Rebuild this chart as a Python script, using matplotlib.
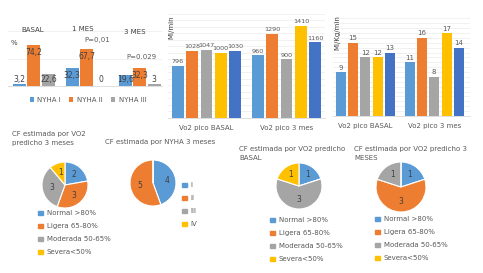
import matplotlib
matplotlib.use('Agg')
import matplotlib.pyplot as plt
from matplotlib.patches import Patch
import numpy as np

W, H = 483, 273
BLUE, ORANGE, GRAY, YELLOW, DBLUE = '#5B9BD5', '#ED7D31', '#A5A5A5', '#FFC000', '#4472C4'
TXT = '#595959'
GRID = '#ececec'

# NYHA class by visit (%)
nyha_groups = ['BASAL', '1 MES', '3 MES']
nyha_names = ['NYHA I', 'NYHA II', 'NYHA III']
nyha_vals = [[3.2, 32.3, 19.6],
             [74.2, 67.7, 32.3],
             [22.6, 0, 3]]
nyha_pvals = ['P=0,01', 'P=0.029']

# Vo2 pico
vo2_cats = ['Vo2 pico BASAL', 'Vo2 pico 3 mes']
vo2_abs = [[796, 1028, 1047, 1000, 1030],
           [960, 1290, 900, 1410, 1160]]
vo2_rel = [[9, 15, 12, 12, 13],
           [11, 16, 8, 17, 14]]
vo2_colors = [BLUE, ORANGE, GRAY, YELLOW, DBLUE]

# pies
cf_labels = ['Normal >80%', 'Ligera 65-80%', 'Moderada 50-65%', 'Severa<50%']
nyha_pie_labels = ['I', 'II', 'III', 'IV']
pie_colors = [BLUE, ORANGE, GRAY, YELLOW]
pie_vo2_3m = [2, 3, 3, 1]
pie_nyha_3m = [4, 5, 0, 0]
pie_vo2_basal = [1, 0, 3, 1]
pie_vo2_3m_b = [1, 3, 1, 0]


def box(l, t, r, b):
    return [l / W, 1 - b / H, (r - l) / W, (b - t) / H]


def ftext(x, y, s, **kw):
    kw.setdefault('fontsize', 5)
    kw.setdefault('color', TXT)
    fig.text(x / W, 1 - y / H, s, **kw)


def clean(ax):
    for s in ['top', 'right', 'left']:
        ax.spines[s].set_visible(False)
    ax.spines['bottom'].set_color('#d9d9d9')
    ax.spines['bottom'].set_linewidth(0.6)
    ax.tick_params(length=0, labelleft=False)
    ax.set_axisbelow(True)
    ax.yaxis.grid(True, color=GRID, linewidth=0.5)


fig = plt.figure(figsize=(W / 100, H / 100), dpi=100)

# --- NYHA bars ---
ax = fig.add_axes(box(8, 20, 162, 86))
x = np.arange(len(nyha_groups))
cols = [BLUE, ORANGE, GRAY]
for i, name in enumerate(nyha_names):
    xs = x + (i - 1) * 0.275
    ax.bar(xs, nyha_vals[i], 0.245, color=cols[i], label=name)
    for xi, v in zip(xs, nyha_vals[i]):
        ax.text(xi, max(v - 14, 11), ('%g' % v).replace('.', ','),
                ha='center', va='center', fontsize=5.5, color='#404040')
ax.set_xlim(-0.49, 2.42)
ax.set_ylim(0, 120)
ax.set_yticks([0, 50, 100])
ax.set_xticks([])
clean(ax)
ax.legend(loc='center', bbox_to_anchor=(88 / W, 1 - 100 / H), bbox_transform=fig.transFigure,
          ncol=3, frameon=False, fontsize=5, handlelength=0.6, handleheight=0.6,
          columnspacing=1.2, handletextpad=0.5, labelcolor=TXT)
for gx, gy, g in zip([33, 83, 135], [30, 29, 32], nyha_groups):
    ftext(gx, gy, g, ha='center', va='center', color='#404040')
ftext(14, 43, '%', ha='center', va='center', color='#404040')
ftext(97, 40, nyha_pvals[0], ha='center', va='center')
ftext(141, 57, nyha_pvals[1], ha='center', va='center')


def vo2_axes(rect, vals, ylim, step, xlim, ylabel, ylabel_xy, fs):
    ax = fig.add_axes(box(*rect))
    gx = np.arange(len(vo2_cats))
    for j in range(5):
        xs = gx + (j - 2) * 0.179
        hv = [vals[g][j] for g in range(len(vo2_cats))]
        ax.bar(xs, hv, 0.145, color=vo2_colors[j])
        for xi, v in zip(xs, hv):
            ax.text(xi, v + ylim * 0.015, str(v), ha='center', va='bottom',
                    fontsize=fs, color=TXT)
    ax.set_ylim(0, ylim)
    ax.set_xlim(*xlim)
    ax.set_yticks(np.arange(0, ylim + step, step))
    ax.set_xticks(gx)
    ax.set_xticklabels(vo2_cats, fontsize=5, color=TXT)
    clean(ax)
    ax.tick_params(axis='x', pad=5)
    ftext(ylabel_xy[0], ylabel_xy[1], ylabel, rotation=90, ha='center', va='center',
          color='#404040')


vo2_axes((168, 13.5, 325, 118), vo2_abs, 1600, 100, (-0.48, 1.48), 'Ml/min', (171, 27), 4.6)
vo2_axes((333, 18.4, 470, 116), vo2_rel, 20, 1, (-0.47, 1.52), 'Ml/Kg/min', (337, 33), 5)


def pie(cx, cy, r, vals, title, tx, ty, leg_xy, legend_labels):
    ax = fig.add_axes(box(cx - r, cy - r, cx + r, cy + r))
    ax.pie(vals, colors=pie_colors, startangle=90, counterclock=False,
           autopct=lambda p: '%d' % round(p * sum(vals) / 100) if p > 0 else '',
           pctdistance=0.6, textprops=dict(fontsize=5.5, color='#404040'),
           wedgeprops=dict(edgecolor='white', linewidth=0.8))
    ax.set_xlim(-1, 1)
    ax.set_ylim(-1, 1)
    ftext(tx, ty, title, ha='left', va='top', linespacing=1.5)
    handles = [Patch(color=c) for c in pie_colors]
    ax.legend(handles, legend_labels, loc='upper left', bbox_to_anchor=(leg_xy[0] / W, 1 - leg_xy[1] / H),
              bbox_transform=fig.transFigure, frameon=False, fontsize=5,
              handlelength=0.6, handleheight=0.6, handletextpad=0.6,
              labelspacing=1.0, labelcolor=TXT, borderpad=0)


pie(65, 185, 23, pie_vo2_3m, 'CF estimada por VO2\npredicho 3 meses', 12, 131, (35, 207), cf_labels)
pie(153, 183, 23, pie_nyha_3m, 'CF estimada por NYHA 3 meses', 105, 139, (179, 179), nyha_pie_labels)
pie(299, 186, 23, pie_vo2_basal, 'CF estimada por VO2 predicho\nBASAL', 239, 146, (267, 214), cf_labels)
pie(401, 187, 25, pie_vo2_3m_b, 'CF estimada por VO2 predicho 3\nMESES', 354, 146, (372, 213), cf_labels)

fig.savefig('out.png', dpi=100)
